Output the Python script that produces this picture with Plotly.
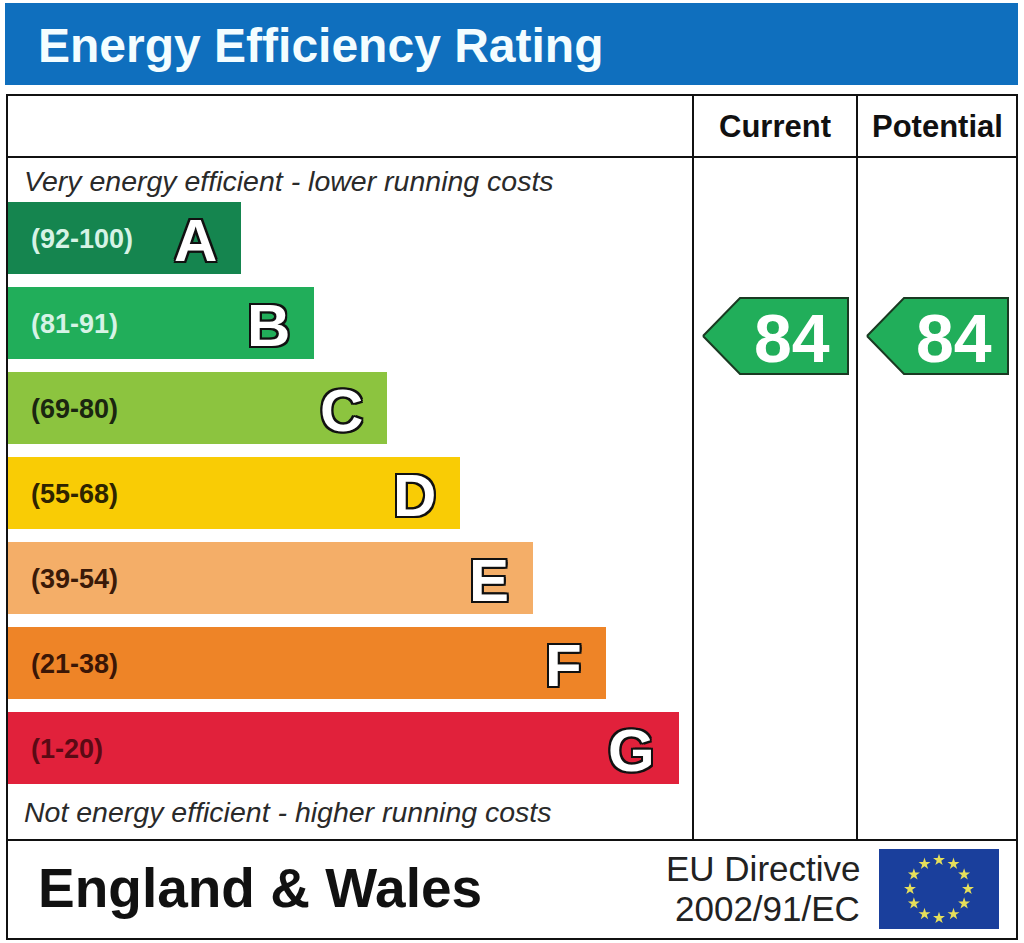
import plotly.graph_objects as go
import math

# ---- data ----
bands = ["A", "B", "C", "D", "E", "F", "G"]
ranges = ["(92-100)", "(81-91)", "(69-80)", "(55-68)", "(39-54)", "(21-38)", "(1-20)"]
band_colors = ["#15854f", "#21ae5a", "#8cc43f", "#f9cc05", "#f4ae68", "#ee8427", "#e1213b"]
range_text_colors = ["#d6f3e6", "#d6f3e6", "#1a2610", "#2e2400", "#3a1a08", "#3a1606", "#5a0a14"]
current_rating = 84
potential_rating = 84
title = "Energy Efficiency Rating"
top_note = "Very energy efficient - lower running costs"
bottom_note = "Not energy efficient - higher running costs"
region = "England & Wales"
directive = ["EU Directive", "2002/91/EC"]
columns = ["Current", "Potential"]
band_mins = [92, 81, 69, 55, 39, 21, 1]

W, H = 1024, 943
FONT = "Liberation Sans, Arial, sans-serif"

# layout geometry
bar_x0 = 8
bar_len0 = 233
bar_step = 73
row0 = 238
row_pitch = 85
bar_h = 72
col_x = [693, 857, 1017]

def band_index(v):
    for i, m in enumerate(band_mins):
        if v >= m:
            return i
    return len(band_mins) - 1

fig = go.Figure()

centers = [row0 + row_pitch * i for i in range(len(bands))]
lengths = [bar_len0 + bar_step * i for i in range(len(bands))]

fig.add_trace(go.Bar(
    orientation="h", y=centers, x=lengths, base=bar_x0, width=bar_h,
    marker=dict(color=band_colors, line=dict(width=0)),
    hoverinfo="skip", showlegend=False,
))

annotations = []
outline = ("-2px -2px 0 #111, 2px -2px 0 #111, -2px 2px 0 #111, 2px 2px 0 #111, "
           "0 2px 0 #111, 0 -2px 0 #111, 2px 0 0 #111, -2px 0 0 #111")
for i, (b, r) in enumerate(zip(bands, ranges)):
    annotations.append(dict(x=29, y=centers[i] + 1, text="<b>%s</b>" % r, xanchor="left", yanchor="middle",
                            showarrow=False, font=dict(family=FONT, size=27, color=range_text_colors[i])))
    annotations.append(dict(x=bar_x0 + lengths[i] - 22, y=centers[i] + 2, text="<b>%s</b>" % b,
                            xanchor="right", yanchor="middle", showarrow=False,
                            font=dict(family=FONT, size=60, color="white", shadow=outline)))

# rating arrows
for k, val in enumerate([current_rating, potential_rating]):
    i = band_index(val)
    c = band_colors[i]
    yc = centers[i] + 13
    left = col_x[k] + 10
    right = col_x[k + 1] - 9
    hh = 38
    xs = [left, left + 37, right, right, left + 37, left]
    ys = [yc, yc - hh, yc - hh, yc + hh, yc + hh, yc]
    fig.add_trace(go.Scatter(x=xs, y=ys, fill="toself", fillcolor=c, mode="lines",
                             line=dict(color="#1a3a22", width=2), hoverinfo="skip", showlegend=False))
    annotations.append(dict(x=(left + 37 + right) / 2 - 2, y=yc + 2, text="<b>%d</b>" % val, showarrow=False,
                            xanchor="center", yanchor="middle",
                            font=dict(family=FONT, size=68, color="white")))

# EU flag stars
fx0, fx1, fy0, fy1 = 879, 999, 849, 929
fcx, fcy = (fx0 + fx1) / 2, (fy0 + fy1) / 2
sx = [fcx + 29 * math.sin(2 * math.pi * j / 12) for j in range(12)]
sy = [fcy - 29 * math.cos(2 * math.pi * j / 12) for j in range(12)]
fig.add_trace(go.Scatter(x=sx, y=sy, mode="markers",
                         marker=dict(symbol="star", size=9, color="#e6df5a", line=dict(width=0)),
                         hoverinfo="skip", showlegend=False))

shapes = [
    dict(type="rect", x0=5, x1=1018, y0=3, y1=85, fillcolor="#0f6fbe", line=dict(width=0), layer="below"),
    dict(type="rect", x0=7, x1=1017, y0=95, y1=939, line=dict(color="#111", width=2)),
    dict(type="line", x0=7, x1=1017, y0=157, y1=157, line=dict(color="#111", width=2)),
    dict(type="line", x0=7, x1=1017, y0=840, y1=840, line=dict(color="#111", width=2)),
    dict(type="line", x0=col_x[0], x1=col_x[0], y0=95, y1=840, line=dict(color="#111", width=2)),
    dict(type="line", x0=col_x[1], x1=col_x[1], y0=95, y1=840, line=dict(color="#111", width=2)),
    dict(type="rect", x0=fx0, x1=fx1, y0=fy0, y1=fy1, fillcolor="#1a3f9c", line=dict(width=0), layer="below"),
]

annotations += [
    dict(x=36, y=45, text="<b>%s</b>" % title, xanchor="left", yanchor="middle", showarrow=False,
         font=dict(family=FONT, size=48, color="#f4fdff")),
    dict(x=(col_x[0] + col_x[1]) / 2, y=126, text="<b>%s</b>" % columns[0], showarrow=False,
         xanchor="center", yanchor="middle", font=dict(family=FONT, size=31, color="#111")),
    dict(x=(col_x[1] + col_x[2]) / 2, y=126, text="<b>%s</b>" % columns[1], showarrow=False,
         xanchor="center", yanchor="middle", font=dict(family=FONT, size=31, color="#111")),
    dict(x=22, y=181, text="<i>%s</i>" % top_note, xanchor="left", yanchor="middle", showarrow=False,
         font=dict(family=FONT, size=28.5, color="#2a2a2a")),
    dict(x=22, y=812, text="<i>%s</i>" % bottom_note, xanchor="left", yanchor="middle", showarrow=False,
         font=dict(family=FONT, size=28.5, color="#2a2a2a")),
    dict(x=36, y=888, text="<b>%s</b>" % region, xanchor="left", yanchor="middle", showarrow=False,
         font=dict(family=FONT, size=55, color="#111")),
    dict(x=862, y=868, text=directive[0], xanchor="right", yanchor="middle", showarrow=False,
         font=dict(family=FONT, size=35, color="#222")),
    dict(x=862, y=908, text=directive[1], xanchor="right", yanchor="middle", showarrow=False,
         font=dict(family=FONT, size=35, color="#222")),
]

fig.update_layout(
    width=W, height=H, margin=dict(l=0, r=0, t=0, b=0),
    paper_bgcolor="white", plot_bgcolor="white",
    xaxis=dict(range=[0, W], visible=False, fixedrange=True),
    yaxis=dict(range=[H, 0], visible=False, fixedrange=True),
    shapes=shapes, annotations=annotations, showlegend=False, bargap=0,
)

fig.write_html(
    "out.html",
    config={"displayModeBar": False},
    post_script="document.body.style.margin='0';document.body.style.overflow='hidden';",
)
